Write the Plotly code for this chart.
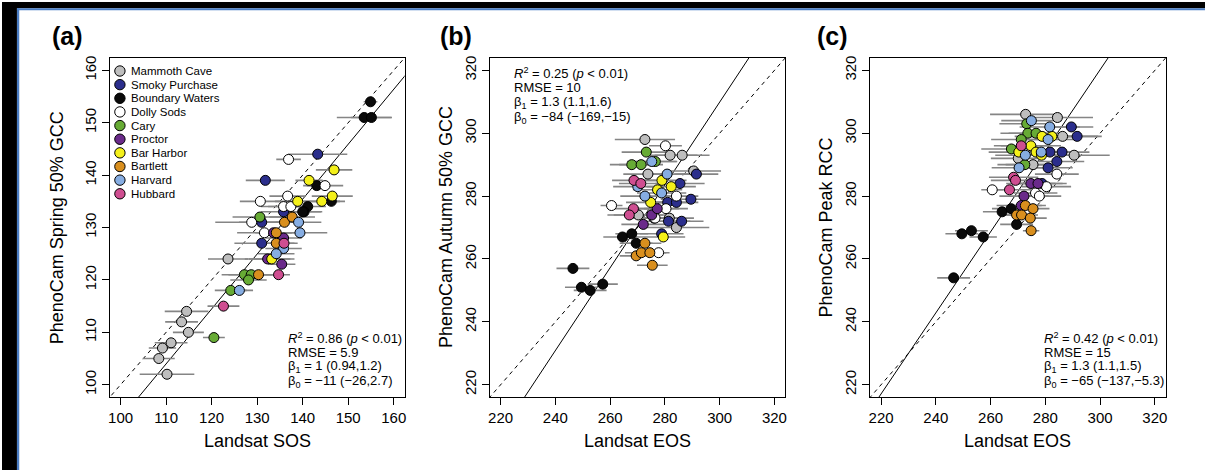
import plotly.graph_objects as go

W, H = 1207, 470

sites = ["Mammoth Cave", "Smoky Purchase", "Boundary Waters", "Dolly Sods", "Cary",
         "Proctor", "Bar Harbor", "Bartlett", "Harvard", "Hubbard"]
colors = ["#BEBEBE", "#2B2E8C", "#0A0A0A", "#FFFFFF", "#67AB35",
          "#6A2A8A", "#F4F01A", "#D98F1E", "#86ADE2", "#CF4E91"]

# ---------------- Panel (a): Landsat SOS vs PhenoCam Spring 50% GCC
a_x = [[123.6, 114.5, 113.4, 114.9, 111.1, 109.2, 108.4, 110.2],
       [143.3, 131.8, 135.8, 131.0, 131.0],
       [154.9, 153.5, 155.1, 143.1, 146.3, 141.1, 140.3, 140.0],
       [136.9, 144.9, 130.7, 136.7, 135.8, 137.4, 128.8, 131.6],
       [130.6, 127.2, 128.7, 128.1, 124.2, 120.5],
       [132.3, 133.6, 135.8, 135.4],
       [146.9, 141.4, 138.9, 146.5, 144.2, 133.2],
       [136.0, 137.7, 134.2, 134.2, 130.3],
       [139.1, 139.4, 135.8, 134.2, 126.1],
       [135.9, 134.7, 122.6]]
a_y = [[124, 114, 112, 110, 108, 107, 105, 102],
       [144, 139, 133, 131, 127],
       [154, 151, 151, 138, 135, 134, 133, 133],
       [143, 138, 135, 136, 134, 134, 131, 129],
       [132, 121, 121, 120, 118, 109],
       [124, 129, 128, 123],
       [141, 139, 135, 136, 135, 124],
       [131, 132, 129, 127, 121],
       [131, 129, 126, 125, 118],
       [127, 121, 115]]
a_err = [[4.4, 4.8, 3.6, 3.4, 3.6, 3.0, 3.5, 6.0],
         [6.5, 4.3, 5, 5, 6],
         [1.5, 6, 4.5, 3, 3, 4, 4, 4],
         [2.7, 4, 4.5, 4, 5, 5, 8, 6],
         [6, 5, 5, 4, 3.5, 2.4],
         [5, 4, 4, 3],
         [4, 3, 5, 4.5, 4, 5],
         [4, 5, 4, 4, 3],
         [5, 6, 4, 4, 3],
         [3, 2.5, 3.5]]

# ---------------- Panel (b): Landsat EOS vs PhenoCam Autumn 50% GCC
b_x = [[272.7, 281.9, 286.3, 273.8, 290.5, 270.3, 276.0, 281.6, 284.2],
       [291.5, 285.5, 289.5, 281.0, 284.2, 281.3, 286.1, 278.8],
       [246.4, 249.5, 252.7, 257.3, 264.5, 267.9, 269.5],
       [280.2, 260.5, 284.2, 280.4, 276.4, 277.7],
       [273.2, 267.9, 271.3, 276.5],
       [272.1, 275.2, 277.2],
       [278.9, 277.3, 282.3, 274.8, 279.4],
       [272.7, 269.5, 271.4, 274.5, 275.4],
       [275.2, 280.8, 272.7, 278.8, 270.1],
       [268.7, 271.2, 268.5, 267.0]]
b_y = [[298, 293, 293, 287, 288, 274, 273, 273, 270],
       [287, 284, 279, 278, 278, 272, 272, 268],
       [257, 251, 250, 252, 267, 268, 265],
       [296, 277, 280, 276, 273, 262],
       [294, 290, 290, 291],
       [271, 274, 276],
       [285, 282, 283, 278, 267],
       [265, 261, 262, 262, 258],
       [291, 287, 280, 281, 283],
       [285, 284, 276, 274]]
b_err = [[11, 10, 10, 9, 10, 9, 8, 9, 12],
         [8, 9, 11, 8, 8, 8, 8, 8],
         [6, 6, 6, 5.5, 7, 6, 6],
         [6, 4, 8, 8, 9, 4],
         [9, 8, 8, 8],
         [8, 8, 8],
         [9, 9, 9, 9, 8],
         [6, 6, 6, 6, 5.6],
         [9, 9, 9, 9, 9],
         [8, 8, 8, 8]]

# ---------------- Panel (c): Landsat EOS vs PhenoCam Peak RCC
c_x = [[272.8, 284.4, 286.3, 290.5, 270.1, 275.5],
       [289.5, 291.6, 281.7, 286.1, 284.2, 281.0, 278.8],
       [246.5, 249.5, 253.0, 257.3, 264.2, 267.5, 269.5],
       [260.6, 284.2, 280.4, 276.4, 277.8],
       [273.2, 273.6, 276.6, 271.2, 267.6, 272.5],
       [274.7, 277.3, 272.2, 271.2],
       [278.8, 282.4, 274.7, 270.3, 276.6, 278.6],
       [272.7, 275.5, 269.5, 271.3, 274.5, 274.8],
       [274.9, 281.6, 281.0, 278.5, 272.7, 270.4],
       [271.2, 268.4, 269.1, 266.9]]
c_y = [[306, 305, 299, 293, 292, 290],
       [302, 299, 294, 294, 291, 289, 284],
       [254, 268, 269, 267, 275, 276, 271],
       [282, 287, 283, 281, 280],
       [303, 300, 300, 298, 295, 290],
       [284, 284, 280, 277],
       [299, 299, 296, 294, 294, 293],
       [277, 276, 274, 274, 273, 269],
       [304, 302, 298, 294, 293, 289],
       [296, 286, 285, 282]]
c_err = [[13, 13, 13, 13, 10, 10],
         [8, 9, 10, 10, 10, 9, 9],
         [6, 6, 6, 5, 7, 7, 6],
         [4, 8, 9, 8, 8],
         [10, 10, 10, 11, 11, 10],
         [9, 9, 9, 9],
         [10, 10, 11, 11, 10, 10],
         [6, 6, 6, 6, 6, 3],
         [11, 11, 11, 11, 11, 10],
         [10, 9, 9, 8]]

# regression fits (slope, intercept)
fit_slope = [1.048, 1.317, 1.289]
fit_intercept = [-11.3, -85.2, -66.5]

panel_labels = ["(a)", "(b)", "(c)"]
x_titles = ["Landsat SOS", "Landsat EOS", "Landsat EOS"]
y_titles = ["PhenoCam Spring 50% GCC", "PhenoCam Autumn 50% GCC", "PhenoCam Peak RCC"]
ticks_a = [100, 110, 120, 130, 140, 150, 160]
ticks_bc = [220, 240, 260, 280, 300, 320]
stats = [
    ["<i>R</i><sup>2</sup> = 0.86 (<i>p</i> &lt; 0.01)", "RMSE = 5.9",
     "β<sub>1</sub> = 1 (0.94,1.2)", "β<sub>0</sub> = −11 (−26,2.7)"],
    ["<i>R</i><sup>2</sup> = 0.25 (<i>p</i> &lt; 0.01)", "RMSE = 10",
     "β<sub>1</sub> = 1.3 (1.1,1.6)", "β<sub>0</sub> = −84 (−169,−15)"],
    ["<i>R</i><sup>2</sup> = 0.42 (<i>p</i> &lt; 0.01)", "RMSE = 15",
     "β<sub>1</sub> = 1.3 (1.1,1.5)", "β<sub>0</sub> = −65 (−137,−5.3)"],
]

FONT = "Liberation Sans, Arial, Helvetica, sans-serif"

# layout geometry in pixels
boxes = [(108, 404), (489.3, 786), (871, 1167.7)]
box_top, box_bot = 56, 397
ranges = [[97.6, 162.4], [216, 324], [216, 324]]
tickvals = [ticks_a, ticks_bc, ticks_bc]
ytitle_x = [55, 445, 826.7]
label_x = [48, 437, 816]
stat_pos = [(285, 337.3), (512, 71.7), (1043.5, 337.3)]
stat_step = 14.6

def px(xp):
    return xp / W

def py(yp):
    return 1 - yp / H

fig = go.Figure()
data = [(a_x, a_y, a_err), (b_x, b_y, b_err), (c_x, c_y, c_err)]

for p in range(3):
    xs, ys, es = data[p]
    xa = "x" if p == 0 else f"x{p+1}"
    ya = "y" if p == 0 else f"y{p+1}"
    lo, hi = ranges[p]
    # 1:1 line
    fig.add_trace(go.Scatter(x=[lo - 10, hi + 10], y=[lo - 10, hi + 10], mode="lines",
                             line=dict(color="black", width=1, dash="4px,4px"),
                             xaxis=xa, yaxis=ya, showlegend=False, hoverinfo="skip"))
    # fitted line
    fx = [lo - 10, hi + 10]
    fy = [fit_slope[p] * v + fit_intercept[p] for v in fx]
    fig.add_trace(go.Scatter(x=fx, y=fy, mode="lines",
                             line=dict(color="black", width=1),
                             xaxis=xa, yaxis=ya, showlegend=False, hoverinfo="skip"))
    # error bars (all behind points)
    allx = [v for s in xs for v in s]
    ally = [v for s in ys for v in s]
    alle = [v for s in es for v in s]
    fig.add_trace(go.Scatter(x=allx, y=ally, mode="markers",
                             marker=dict(size=1, color="rgba(0,0,0,0)"),
                             error_x=dict(type="data", array=alle, visible=True,
                                          color="#858585", thickness=1.6, width=0),
                             xaxis=xa, yaxis=ya, showlegend=False, hoverinfo="skip"))
    # points
    for i, s in enumerate(sites):
        fig.add_trace(go.Scatter(x=xs[i], y=ys[i], mode="markers", name=s,
                                 marker=dict(size=10, color=colors[i],
                                             line=dict(color="black", width=1)),
                                 xaxis=xa, yaxis=ya, showlegend=False))

axis_common = dict(showgrid=False, zeroline=False, showline=True, mirror=True,
                   linecolor="black", linewidth=1, ticks="outside", ticklen=7,
                   tickwidth=1, tickcolor="black",
                   tickfont=dict(family=FONT, size=15, color="black"))

layout = dict(width=W, height=H, margin=dict(l=0, r=0, t=0, b=0),
              paper_bgcolor="white", plot_bgcolor="white", showlegend=False,
              font=dict(family=FONT, color="black"))
for p in range(3):
    suf = "" if p == 0 else str(p + 1)
    l, r = boxes[p]
    layout["xaxis" + suf] = dict(axis_common, domain=[px(l), px(r)], range=ranges[p],
                                 tickvals=tickvals[p], anchor="y" + suf)
    layout["yaxis" + suf] = dict(axis_common, domain=[py(box_bot), py(box_top)], range=ranges[p],
                                 tickvals=tickvals[p], tickangle=-90, anchor="x" + suf)

fig.update_layout(**layout)

ann = []
for p in range(3):
    l, r = boxes[p]
    ann.append(dict(x=px((l + r) / 2), y=py(440.7), xref="paper", yref="paper",
                    text=x_titles[p], showarrow=False, xanchor="center", yanchor="middle",
                    font=dict(size=18, family=FONT)))
    ann.append(dict(x=px(ytitle_x[p]), y=py((box_top + box_bot) / 2), xref="paper", yref="paper",
                    text=y_titles[p], showarrow=False, textangle=-90,
                    xanchor="center", yanchor="middle", font=dict(size=18, family=FONT)))
    ann.append(dict(x=px(label_x[p]), y=py(34), xref="paper", yref="paper",
                    text="<b>" + panel_labels[p] + "</b>", showarrow=False,
                    xanchor="left", yanchor="middle", font=dict(size=25, family=FONT)))
    sx, sy = stat_pos[p]
    for k, line in enumerate(stats[p]):
        ann.append(dict(x=px(sx), y=py(sy + k * stat_step), xref="paper", yref="paper",
                        text=line, showarrow=False, xanchor="left", yanchor="middle",
                        font=dict(size=13, family=FONT)))

shapes = []
# manual legend in panel (a)
for i, s in enumerate(sites):
    cy = 69.3 + 13.7 * i
    shapes.append(dict(type="circle", xref="paper", yref="paper", xsizemode="pixel",
                       ysizemode="pixel", xanchor=px(118.3), yanchor=py(cy),
                       x0=-5.2, x1=5.2, y0=-5.2, y1=5.2,
                       fillcolor=colors[i], line=dict(color="black", width=1)))
    ann.append(dict(x=px(127.5), y=py(cy), xref="paper", yref="paper", text=s,
                    showarrow=False, xanchor="left", yanchor="middle",
                    font=dict(size=11.5, family=FONT)))

# outer frame (black band + blue rule on top and left)
shapes += [
    dict(type="rect", xref="paper", yref="paper", x0=0, x1=1, y0=py(6.3), y1=1,
         fillcolor="black", line=dict(width=0), layer="above"),
    dict(type="rect", xref="paper", yref="paper", x0=0, x1=px(15), y0=0, y1=1,
         fillcolor="black", line=dict(width=0), layer="above"),
    dict(type="rect", xref="paper", yref="paper", x0=px(15), x1=1, y0=py(8.3), y1=py(6.3),
         fillcolor="#4C7FC6", line=dict(width=0), layer="above"),
    dict(type="rect", xref="paper", yref="paper", x0=px(15), x1=px(17.3), y0=0, y1=py(6.3),
         fillcolor="#4C7FC6", line=dict(width=0), layer="above"),
]

fig.update_layout(annotations=ann, shapes=shapes)

hide_scroll = ("var s=document.createElement('style');"
               "s.innerHTML='::-webkit-scrollbar{display:none;width:0;height:0}"
               "html,body{margin:0;padding:0;overflow:hidden;scrollbar-width:none}';"
               "document.head.appendChild(s);")
fig.write_html("out.html", config={"displayModeBar": False}, post_script=hide_scroll)
